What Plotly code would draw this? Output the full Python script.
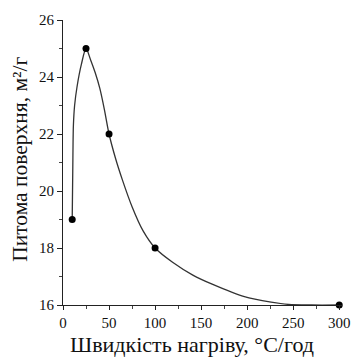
import plotly.graph_objects as go

# measured points
rate = [10, 25, 50, 100, 300]
area = [19, 25, 22, 18, 16]

# fitted curve
curve_x = [10, 10.6, 11.3, 12.6, 15.2, 20, 25, 30, 35, 40, 45, 50, 57, 64.4, 75, 87, 100, 119, 141, 162, 197, 226, 245, 270, 300]
curve_y = [19, 20.7, 22.3, 23.0, 23.65, 24.45, 25, 24.6, 24.15, 23.6, 22.85, 22, 21.15, 20.4, 19.45, 18.6, 18, 17.5, 17.05, 16.73, 16.29, 16.1, 16.02, 16.0, 16.0]

x_ticks = [0, 50, 100, 150, 200, 250, 300]
y_ticks = [16, 18, 20, 22, 24, 26]

x_title = "Швидкість нагріву, °С/год"
y_title = "Питома поверхня, м²/г"

FONT = "Liberation Serif"

fig = go.Figure()
fig.add_trace(go.Scatter(x=curve_x, y=curve_y, mode="lines",
                         line=dict(color="#333333", width=1.3, shape="spline", smoothing=0.8),
                         hoverinfo="skip", showlegend=False))
fig.add_trace(go.Scatter(x=rate, y=area, mode="markers",
                         marker=dict(color="black", size=7),
                         cliponaxis=False, showlegend=False))

fig.update_layout(
    width=362, height=357,
    margin=dict(l=63, r=12, t=18, b=52),
    paper_bgcolor="white", plot_bgcolor="white",
    font=dict(family=FONT, color="#111111"),
    xaxis=dict(range=[0, 303], tickvals=x_ticks, ticks="outside", ticklen=4,
               tickcolor="#222", showline=True, linecolor="#222", linewidth=1.2,
               showgrid=False, zeroline=False, tickfont=dict(size=15, family=FONT),
               minor=dict(tickvals=[25, 75, 125, 175, 225, 275], ticks="outside", ticklen=3, tickcolor="#444")),
    yaxis=dict(range=[16, 26], tickvals=y_ticks, ticks="outside", ticklen=5,
               tickcolor="#222", showline=True, linecolor="#222", linewidth=1.2,
               showgrid=False, zeroline=False, tickfont=dict(size=15, family=FONT),
               minor=dict(tickvals=[17, 19, 21, 23, 25], ticks="outside", ticklen=3, tickcolor="#444")),
    annotations=[
        dict(text=x_title, xref="paper", yref="paper", x=0.463, y=-0.138,
             xanchor="center", yanchor="middle", showarrow=False,
             font=dict(size=22, family=FONT, color="#111111")),
        dict(text=y_title, xref="paper", yref="paper", x=-0.157, y=0.51,
             xanchor="center", yanchor="middle", textangle=-90, showarrow=False,
             font=dict(size=21.5, family=FONT, color="#111111")),
    ],
)

fig.write_html("out.html", config={"displayModeBar": False},
               post_script="document.body.style.margin='0';")
